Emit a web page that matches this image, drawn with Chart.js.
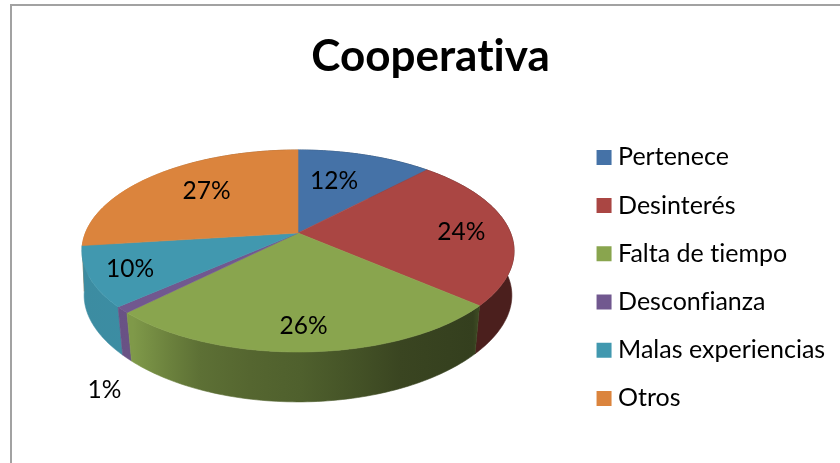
<!DOCTYPE html>
<html><head><meta charset="utf-8">
<style>
html,body{margin:0;padding:0;background:#fff;overflow:hidden}
#w{position:relative;width:840px;height:463px}
#f{position:absolute;left:10px;top:4px;right:0;bottom:0;border-left:2px solid #a2a2a2;border-top:2px solid #a2a2a2}
canvas{position:absolute;left:0;top:0}
</style>
<script src="https://cdn.jsdelivr.net/npm/chart.js@4"></script>
</head><body>
<div id="w"><div id="f"></div><canvas id="c" width="840" height="463"></canvas></div>
<script>
const titleText = 'Cooperativa';
const categories = ['Pertenece','Desinterés','Falta de tiempo','Desconfianza','Malas experiencias','Otros'];
const values = [12, 24.4, 26, 1, 9.6, 27];
const colors = ['#4572A7','#AA4643','#89A54E','#71588F','#4198AF','#DB843D'];

const FONT = 'Lato, Carlito, sans-serif';
const CX = 298, K = 0.178;
const topDisk = {cy:233, a:97.8, b:212.6, bulge:0};
const baseDisk = {cy:278.3, a:101.6, b:205.6, bulge:.025};
function project(d, angle, r){
  const x = Math.cos(angle)*r, y = Math.sin(angle)*r, w = 1/(1-K*y);
  return [CX + d.b*x*w*(1+d.bulge*x*x*x*x), d.cy + d.a*y*w];
}
function shadeColor(hex, s){
  const n = parseInt(hex.slice(1),16);
  return `rgb(${Math.round((n>>16&255)*s)},${Math.round((n>>8&255)*s)},${Math.round((n&255)*s)})`;
}
const wallShade = [[0,.92],[.118,.93],[.204,.78],[.273,.68],[.389,.62],[.505,.58],[.644,.49],[.736,.42],[.905,.38],[.915,.44],[1,.44]];
const noLigatures = {
  id:'noLigatures',
  beforeDraw(chart){ chart.ctx.letterSpacing = '0.01px'; }
};
const pie3d = {
  id:'pie3d',
  beforeDatasetsDraw(chart){
    const ctx = chart.ctx, arcs = chart.getDatasetMeta(0).data;
    const order = arcs.map((a,i)=>i).sort((p,q)=>
      Math.sin((arcs[p].startAngle+arcs[p].endAngle)/2)-Math.sin((arcs[q].startAngle+arcs[q].endAngle)/2));
    order.forEach(i=>{
      const a = arcs[i], n = 80, up = [], dn = [];
      for(let s=0;s<=n;s++){
        const t = a.startAngle+(a.endAngle-a.startAngle)*s/n;
        up.push(project(topDisk,t,1)); dn.push(project(baseDisk,t,1));
      }
      const g = ctx.createLinearGradient(82,0,514,0);
      wallShade.forEach(([p,s])=>g.addColorStop(p,shadeColor(colors[i],s)));
      ctx.beginPath();
      up.forEach((p,j)=>j?ctx.lineTo(p[0],p[1]):ctx.moveTo(p[0],p[1]));
      dn.reverse().forEach(p=>ctx.lineTo(p[0],p[1]));
      ctx.closePath();
      ctx.fillStyle = g; ctx.strokeStyle = g; ctx.lineWidth = .6;
      ctx.fill(); ctx.stroke();
    });
    arcs.forEach((a,i)=>{
      const n = 80;
      ctx.beginPath();
      ctx.moveTo(CX, topDisk.cy);
      for(let s=0;s<=n;s++){
        const p = project(topDisk,a.startAngle+(a.endAngle-a.startAngle)*s/n,1);
        ctx.lineTo(p[0],p[1]);
      }
      ctx.closePath();
      ctx.fillStyle = colors[i]; ctx.strokeStyle = colors[i]; ctx.lineWidth = .6;
      ctx.fill(); ctx.stroke();
    });
    const radial = [.62,.77,.81,1,.82,.6];
    const nudge = [[-8,-1],[1,3],[-2,1],[-18,80],[1,1],[-2,-6]];
    const total = values.reduce((s,v)=>s+v,0);
    ctx.fillStyle = '#000'; ctx.textAlign = 'center'; ctx.textBaseline = 'middle';
    ctx.font = `24.5px ${FONT}`;
    arcs.forEach((a,i)=>{
      const p = project(topDisk,(a.startAngle+a.endAngle)/2,radial[i]);
      ctx.fillText(Math.round(values[i]/total*100)+'%', p[0]+nudge[i][0], p[1]+nudge[i][1]);
    });
    return false;
  }
};
new Chart(document.getElementById('c'),{
  type:'pie',
  data:{labels:categories,datasets:[{data:values,backgroundColor:colors,borderWidth:0}]},
  plugins:[noLigatures,pie3d],
  options:{
    responsive:false,animation:false,
    layout:{padding:{left:26,right:5,top:30,bottom:0}},
    plugins:{
      tooltip:{enabled:false},
      title:{display:true,text:titleText,color:'#000',font:{family:FONT,size:44,weight:'bold'},padding:{top:0,bottom:10}},
      legend:{position:'right',align:'center',fullSize:false,
        labels:{usePointStyle:true,pointStyle:'rect',boxWidth:3,boxHeight:15,padding:23.2,color:'#000',font:{family:FONT,size:25}}}
    }
  }
});
</script>
</body></html>
